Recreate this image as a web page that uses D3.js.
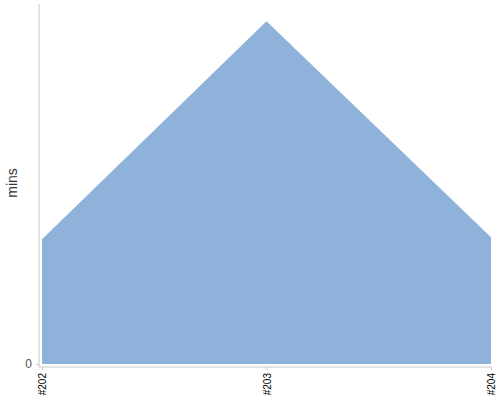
<!DOCTYPE html>
<html lang="en">
<head>
<meta charset="utf-8">
<title>mins area</title>
<script src="https://d3js.org/d3.v7.min.js"></script>
<style>
  body { margin: 0; background: #fff; }
  text { font-family: "Liberation Sans", Arial, sans-serif; }
</style>
</head>
<body>
<script>
// data (y axis only shows 0, so units are estimated)
var builds = ["#202", "#203", "#204"];
var mins = [36.4, 100, 37];
var yTicks = [0];

var w = 500, h = 400;
// plot box (note: "top" is taken by window.top, so use other names)
var plotLeft = 42, plotRight = 491, plotTop = 4, plotBottom = 364;

var svg = d3.select("body").append("svg")
    .attr("width", w)
    .attr("height", h);

var x = d3.scalePoint().domain(builds).range([plotLeft, plotRight]);
var y = d3.scaleLinear().domain([0, 105]).range([plotBottom, plotTop]);

// area
var area = d3.area()
    .x(function(d, i) { return x(builds[i]); })
    .y0(y(0))
    .y1(function(d) { return y(d); });

svg.append("path")
    .datum(mins)
    .attr("d", area)
    .attr("fill", "#8fb2db");

// y axis
var yAxis = svg.append("g")
    .attr("transform", "translate(39,0)")
    .call(d3.axisLeft(y).tickValues(yTicks).tickSize(3).tickPadding(4));
yAxis.select(".domain").attr("d", "M0," + plotTop + "V" + (plotBottom + 3)).attr("stroke", "#c8c8c8");
yAxis.selectAll(".tick line").attr("stroke", "#c8c8c8");
yAxis.selectAll(".tick text").attr("fill", "#555").style("font-size", "12px");

// x axis
var xAxis = svg.append("g")
    .attr("transform", "translate(0," + (plotBottom + 3) + ")")
    .call(d3.axisBottom(x).tickSize(3).tickPadding(0));
xAxis.select(".domain").attr("d", "M39,0H" + plotRight).attr("stroke", "#c8c8c8");
xAxis.selectAll(".tick line").attr("stroke", "#c8c8c8");
xAxis.selectAll(".tick text")
    .attr("fill", "#000")
    .style("font-size", "10px")
    .attr("text-anchor", "end")
    .attr("transform", "rotate(-90)")
    .attr("x", -6)
    .attr("y", 0)
    .attr("dy", "0.35em");

// y label
svg.append("text")
    .attr("transform", "translate(17,183) rotate(-90)")
    .attr("text-anchor", "middle")
    .attr("fill", "#333")
    .style("font-size", "14px")
    .text("mins");
</script>
</body>
</html>
